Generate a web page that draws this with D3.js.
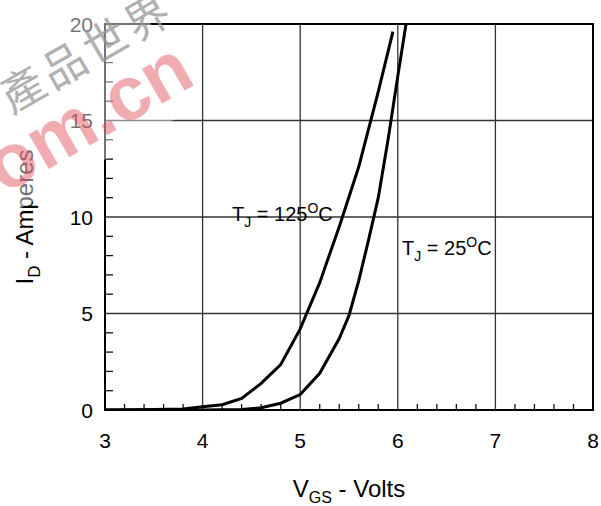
<!DOCTYPE html>
<html>
<head>
<meta charset="utf-8">
<script src="https://cdn.jsdelivr.net/npm/d3@7"></script>
<style>
  body { margin: 0; background: #fff; }
  text { font-family: "Liberation Sans", Arial, sans-serif; }
</style>
</head>
<body>
<div id="chart"></div>
<script>
// Données
const vgs125 = [3.0, 3.5, 3.8, 4.0, 4.2, 4.4, 4.6, 4.8, 5.0, 5.2, 5.4, 5.6, 5.8, 5.95];
const id125  = [0, 0.02, 0.05, 0.17, 0.27, 0.6, 1.38, 2.35, 4.2, 6.6, 9.5, 12.6, 16.5, 19.6];

const vgs25 = [3.0, 4.0, 4.4, 4.6, 4.8, 5.0, 5.2, 5.4, 5.5, 5.6, 5.7, 5.8, 5.9, 6.0, 6.1];
const id25  = [0, 0, 0.02, 0.12, 0.35, 0.8, 1.9, 3.7, 4.9, 6.7, 8.8, 11.0, 14.0, 17.3, 20.5];

const xTicks = [3, 4, 5, 6, 7, 8];
const yTicks = [0, 5, 10, 15, 20];

const width = 601, height = 506;
const margin = { left: 105, right: 8, top: 24, bottom: 96 };

const svg = d3.select("#chart").append("svg")
    .attr("width", width)
    .attr("height", height);

const x = d3.scaleLinear().domain([3, 8]).range([margin.left, width - margin.right]);
const y = d3.scaleLinear().domain([0, 20]).range([height - margin.bottom, margin.top]);

// Grille
const grid = svg.append("g").attr("stroke", "#333").attr("stroke-width", 1.3);
grid.selectAll("line.gx").data(xTicks.slice(1, -1)).join("line")
    .attr("x1", d => x(d)).attr("x2", d => x(d))
    .attr("y1", y(0)).attr("y2", y(20));
grid.selectAll("line.gy").data(yTicks.slice(1, -1)).join("line")
    .attr("x1", x(3)).attr("x2", x(8))
    .attr("y1", d => y(d)).attr("y2", d => y(d));

// Petites graduations
const minorX = d3.range(3.2, 8, 0.2).filter(d => Math.abs(d - Math.round(d)) > 0.01);
svg.append("g").attr("stroke", "#111").attr("stroke-width", 1.3)
    .selectAll("line").data(minorX).join("line")
    .attr("x1", d => x(d)).attr("x2", d => x(d))
    .attr("y1", y(0)).attr("y2", y(0) - 6);
const minorY = d3.range(1, 20).filter(d => d % 5 !== 0);
svg.append("g").attr("stroke", "#111").attr("stroke-width", 1.3)
    .selectAll("line").data(minorY).join("line")
    .attr("x1", x(3)).attr("x2", x(3) + 8)
    .attr("y1", d => y(d)).attr("y2", d => y(d));

// Cadre
svg.append("rect")
    .attr("x", x(3)).attr("y", y(20))
    .attr("width", x(8) - x(3)).attr("height", y(0) - y(20))
    .attr("fill", "none").attr("stroke", "#000").attr("stroke-width", 2);

// Courbes
svg.append("clipPath").attr("id", "clip").append("rect")
    .attr("x", x(3)).attr("y", y(20))
    .attr("width", x(8) - x(3)).attr("height", y(0) - y(20));

const line = d3.line().x(d => x(d[0])).y(d => y(d[1]));
const curves = svg.append("g").attr("clip-path", "url(#clip)");
curves.append("path").datum(d3.zip(vgs125, id125))
    .attr("d", line).attr("fill", "none").attr("stroke", "#000").attr("stroke-width", 3);
curves.append("path").datum(d3.zip(vgs25, id25))
    .attr("d", line).attr("fill", "none").attr("stroke", "#000").attr("stroke-width", 3);

// Libellés des axes
svg.append("g").selectAll("text").data(xTicks).join("text")
    .attr("x", d => x(d)).attr("y", y(0) + 38)
    .attr("text-anchor", "middle").attr("font-size", 21)
    .text(d => d);
svg.append("g").selectAll("text").data(yTicks).join("text")
    .attr("x", x(3) - 12).attr("y", d => y(d) + 7.5)
    .attr("text-anchor", "end").attr("font-size", 21)
    .text(d => d);

// Titres
const xt = svg.append("text").attr("x", x(5.5)).attr("y", 497)
    .attr("text-anchor", "middle").attr("font-size", 24);
xt.append("tspan").text("V");
xt.append("tspan").attr("font-size", 16).attr("dy", 6).text("GS");
xt.append("tspan").attr("dy", -6).text(" - Volts");

const yt = svg.append("text")
    .attr("transform", `translate(33,${y(10)}) rotate(-90)`)
    .attr("text-anchor", "middle").attr("font-size", 24);
yt.append("tspan").text("I");
yt.append("tspan").attr("font-size", 17).attr("dy", 7).text("D");
yt.append("tspan").attr("dy", -7).text(" - Amperes");

// Annotations
function tjLabel(px, py, temp) {
  const t = svg.append("text").attr("x", px).attr("y", py).attr("font-size", 20);
  t.append("tspan").text("T");
  t.append("tspan").attr("font-size", 14).attr("dy", 6).text("J");
  t.append("tspan").attr("dy", -6).text(" = " + temp);
  t.append("tspan").attr("font-size", 14).attr("dy", -8).text("O");
  t.append("tspan").attr("dy", 8).text("C");
}
tjLabel(232, 221, "125");
tjLabel(402, 255, "25");

// Filigrane (par-dessus)
const wm = svg.append("g").attr("transform", "translate(2,196) rotate(-30)");
wm.append("rect").attr("x", -60).attr("y", -130).attr("width", 275).attr("height", 150)
    .attr("fill", "rgba(255,255,255,0.45)");
wm.append("text").attr("x", 49).attr("y", -66)
    .attr("font-size", 44).attr("letter-spacing", 4)
    .attr("fill", "rgba(150,150,150,0.75)")
    .style("font-family", "'Noto Sans CJK SC'")
    .text("產品世界");
wm.append("text").attr("x", -40).attr("y", 0)
    .attr("font-size", 76).attr("font-weight", "bold")
    .attr("fill", "rgba(225,70,85,0.45)")
    .text("com.cn");
</script>
</body>
</html>
